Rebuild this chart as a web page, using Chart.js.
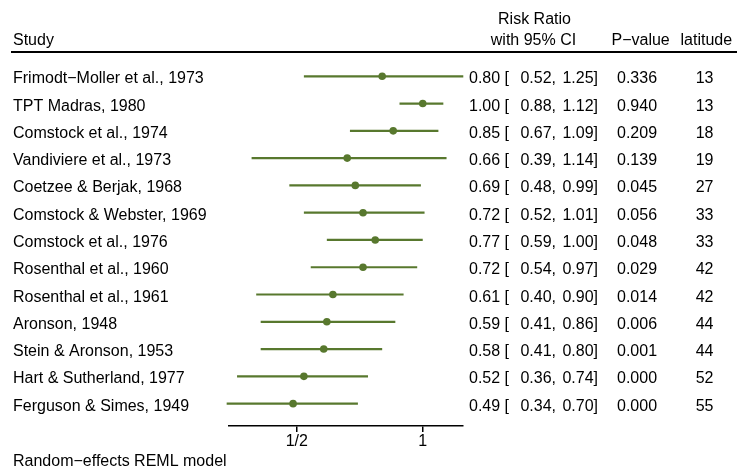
<!DOCTYPE html>
<html>
<head>
<meta charset="utf-8">
<script src="https://cdn.jsdelivr.net/npm/chart.js@4/dist/chart.umd.min.js"></script>
<style>
  html, body { margin: 0; padding: 0; background: #fff; }
  #wrap { width: 737px; height: 476px; }
</style>
</head>
<body>
<div id="wrap"><canvas id="c" width="737" height="476"></canvas></div>
<script>
const studies = [
  "Frimodt\u2212Moller et al., 1973",
  "TPT Madras, 1980",
  "Comstock et al., 1974",
  "Vandiviere et al., 1973",
  "Coetzee & Berjak, 1968",
  "Comstock & Webster, 1969",
  "Comstock et al., 1976",
  "Rosenthal et al., 1960",
  "Rosenthal et al., 1961",
  "Aronson, 1948",
  "Stein & Aronson, 1953",
  "Hart & Sutherland, 1977",
  "Ferguson & Simes, 1949"
];
const riskRatio = [0.80, 1.00, 0.85, 0.66, 0.69, 0.72, 0.77, 0.72, 0.61, 0.59, 0.58, 0.52, 0.49];
const ciLower   = [0.52, 0.88, 0.67, 0.39, 0.48, 0.52, 0.59, 0.54, 0.40, 0.41, 0.41, 0.36, 0.34];
const ciUpper   = [1.25, 1.12, 1.09, 1.14, 0.99, 1.01, 1.00, 0.97, 0.90, 0.86, 0.80, 0.74, 0.70];
const pValues   = ["0.336", "0.940", "0.209", "0.139", "0.045", "0.056", "0.048", "0.029", "0.014", "0.006", "0.001", "0.000", "0.000"];
const latitude  = [13, 13, 18, 19, 27, 33, 33, 42, 42, 44, 44, 52, 55];
const xTickValues = [0.5, 1];
const xTickLabels = ["1/2", "1"];

const GREEN = "#58782e";
const FONT = "16px 'Liberation Sans', Arial, Helvetica, sans-serif";

const datasets = [];
studies.forEach((s, i) => {
  datasets.push({
    type: 'scatter',
    showLine: true,
    data: [{x: ciLower[i], y: i + 1}, {x: ciUpper[i], y: i + 1}],
    borderColor: GREEN,
    backgroundColor: GREEN,
    borderWidth: 2.2,
    pointRadius: 0,
    clip: false,
    order: 2
  });
});
datasets.push({
  type: 'scatter',
  data: riskRatio.map((v, i) => ({x: v, y: i + 1})),
  backgroundColor: GREEN,
  borderColor: GREEN,
  pointRadius: 3.8,
  borderWidth: 0,
  clip: false,
  order: 1
});

const textPlugin = {
  id: 'forestText',
  afterDraw(chart) {
    const ctx = chart.ctx;
    const y = chart.scales.y;
    ctx.save();
    ctx.fillStyle = '#000';
    ctx.font = FONT;
    ctx.textBaseline = 'alphabetic';
    ctx.textAlign = 'left';
    ctx.fillText('Study', 13, 44.5);
    ctx.textAlign = 'center';
    ctx.fillText('Risk Ratio', 534.5, 23.5);
    ctx.fillText('with 95% CI', 533.5, 44.5);
    ctx.textAlign = 'left';
    ctx.fillText('P\u2212value', 611.5, 44.5);
    ctx.fillText('latitude', 680.5, 44.5);
    ctx.strokeStyle = '#000';
    ctx.lineWidth = 2;
    ctx.beginPath();
    ctx.moveTo(11, 52);
    ctx.lineTo(737, 52);
    ctx.stroke();
    studies.forEach((s, i) => {
      const py = y.getPixelForValue(i + 1) + 7;
      ctx.textAlign = 'left';
      ctx.fillText(s, 13, py);
      ctx.fillText(riskRatio[i].toFixed(2) + ' [', 469, py);
      ctx.textAlign = 'right';
      ctx.fillText(ciLower[i].toFixed(2) + ',', 556, py);
      ctx.fillText(ciUpper[i].toFixed(2) + ']', 598, py);
      ctx.textAlign = 'left';
      ctx.fillText(pValues[i], 617, py);
      ctx.textAlign = 'right';
      ctx.fillText(String(latitude[i]), 713.5, py);
    });
    ctx.textAlign = 'left';
    ctx.fillText('Random\u2212effects REML model', 13, 466);
    ctx.restore();
  }
};

new Chart(document.getElementById('c'), {
  type: 'scatter',
  data: { datasets },
  options: {
    responsive: false,
    animation: false,
    devicePixelRatio: 1,
    layout: { padding: { left: 229, right: 274, top: 49, bottom: 0 } },
    plugins: { legend: { display: false }, tooltip: { enabled: false } },
    scales: {
      x: {
        type: 'logarithmic',
        position: 'bottom',
        bounds: 'data',
        min: 0.3444,
        max: 1.248,
        afterBuildTicks: s => { s.ticks = xTickValues.map(v => ({ value: v })); },
        afterFit: s => { s.height = 50; },
        ticks: {
          autoSkip: false,
          maxRotation: 0,
          padding: 0,
          color: '#000',
          font: { family: "'Liberation Sans', Arial, sans-serif", size: 16 },
          callback: (v) => { const k = xTickValues.indexOf(v); return k >= 0 ? xTickLabels[k] : ''; }
        },
        grid: { display: true, drawOnChartArea: false, drawTicks: true, tickLength: 6, color: '#000', lineWidth: 1.5 },
        border: { display: true, color: '#000', width: 1.5 }
      },
      y: {
        type: 'linear',
        display: false,
        reverse: true,
        min: 0,
        max: 13.82
      }
    }
  },
  plugins: [textPlugin]
});
</script>
</body>
</html>
